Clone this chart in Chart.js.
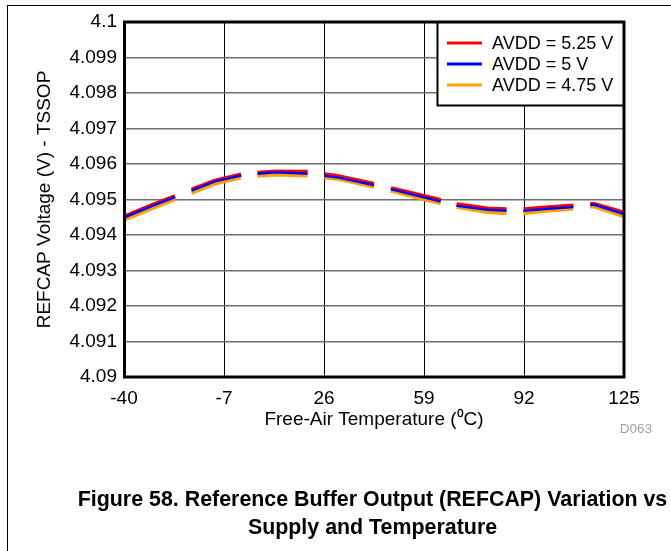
<!DOCTYPE html>
<html>
<head>
<meta charset="utf-8">
<script src="https://cdn.jsdelivr.net/npm/chart.js@4"></script>
<style>
html, body { margin: 0; padding: 0; background: #fff; }
canvas { display: block; }
</style>
</head>
<body>
<canvas id="myChart" width="671" height="551"></canvas>
<script>
// values
const temperatures = [-40, -30, -20, -10, 0, 10, 20, 30, 40, 50, 60, 70, 80, 90, 100, 110, 115, 125];
const avdd525 = [4.09452, 4.09487, 4.09520, 4.09553, 4.09573, 4.09579, 4.09578, 4.09567, 4.09549, 4.09528, 4.09508, 4.09487, 4.09475, 4.09471, 4.09478, 4.09484, 4.09488, 4.09463];
const avdd500 = [4.09449, 4.09484, 4.09517, 4.09551, 4.09570, 4.09577, 4.09573, 4.09563, 4.09545, 4.09525, 4.09504, 4.09482, 4.09471, 4.09467, 4.09474, 4.09480, 4.09486, 4.09459];
const avdd475 = [4.09442, 4.09477, 4.09510, 4.09544, 4.09564, 4.09570, 4.09567, 4.09558, 4.09540, 4.09520, 4.09498, 4.09478, 4.09464, 4.09459, 4.09468, 4.09474, 4.09480, 4.09452];
const seriesLabels = ['AVDD = 5.25 V', 'AVDD = 5 V', 'AVDD = 4.75 V'];
const xTickValues = [-40, -7, 26, 59, 92, 125];
const yTickValues = [4.09, 4.091, 4.092, 4.093, 4.094, 4.095, 4.096, 4.097, 4.098, 4.099, 4.1];
const captionLines = ['Figure 58. Reference Buffer Output (REFCAP) Variation vs', 'Supply and Temperature'];

const FONT = "'Liberation Sans', Arial, sans-serif";
// dash lengths along the path (slope makes the first dashes a bit longer)
const DASHES = [55, 17.7, 52, 16.5, 50.2, 17, 50.5, 17.4, 51.2, 16.4, 50.3, 17, 50, 17, 80, 10];

function toPoints(values) {
    return temperatures.map((t, i) => ({ x: t, y: values[i] }));
}

// legend box, plot frame, page frame and caption
const decorations = {
    id: 'decorations',
    afterDraw(chart) {
        const ctx = chart.ctx;
        const a = chart.chartArea;
        ctx.save();

        // legend
        const boxLeft = a.right - 186.5, boxTop = a.top, boxBottom = a.top + 83.5;
        ctx.fillStyle = '#fff';
        ctx.fillRect(boxLeft, boxTop, a.right - boxLeft, boxBottom - boxTop);
        ctx.strokeStyle = '#000';
        ctx.lineWidth = 2;
        ctx.strokeRect(boxLeft, boxTop, a.right - boxLeft, boxBottom - boxTop);
        chart.data.datasets.forEach((ds, i) => {
            const y = a.top + 21 + i * 21;
            ctx.strokeStyle = ds.borderColor;
            ctx.lineWidth = 3;
            ctx.setLineDash([]);
            ctx.beginPath();
            ctx.moveTo(boxLeft + 9.5, y);
            ctx.lineTo(boxLeft + 44.5, y);
            ctx.stroke();
            ctx.fillStyle = '#000';
            ctx.font = '18px ' + FONT;
            ctx.textAlign = 'left';
            ctx.textBaseline = 'middle';
            ctx.fillText(ds.label, boxLeft + 54.5, y + 1);
        });

        // thick plot border
        ctx.strokeStyle = '#000';
        ctx.lineWidth = 3;
        ctx.strokeRect(a.left + 0.5, a.top, a.right - a.left - 0.5, a.bottom - a.top);

        // page frame
        ctx.fillStyle = '#000';
        ctx.fillRect(7, 5, 1, 546);
        ctx.fillRect(7, 5, 664, 1);

        // figure id
        ctx.fillStyle = '#a0a0a0';
        ctx.font = '13.5px ' + FONT;
        ctx.textAlign = 'right';
        ctx.textBaseline = 'alphabetic';
        ctx.fillText('D063', 652, 433);

        // caption
        ctx.fillStyle = '#000';
        ctx.font = 'bold 21.4px ' + FONT;
        ctx.textAlign = 'center';
        captionLines.forEach((line, i) => {
            ctx.fillText(line, 372.5, 506 + i * 28);
        });
        ctx.restore();
    }
};

const ctx = document.getElementById('myChart').getContext('2d');

const data = {
    datasets: [
        {
            label: seriesLabels[0],
            data: toPoints(avdd525),
            borderColor: '#ff0000',
            borderWidth: 4,
            order: 2,
        },
        {
            label: seriesLabels[1],
            data: toPoints(avdd500),
            borderColor: '#0000ff',
            borderWidth: 2.5,
            order: 0,
        },
        {
            label: seriesLabels[2],
            data: toPoints(avdd475),
            borderColor: '#ffa200',
            borderWidth: 3.5,
            order: 1,
        },
    ],
};

const config = {
    type: 'line',
    data: data,
    options: {
        responsive: false,
        animation: false,
        devicePixelRatio: 1,
        layout: {
            padding: { left: 20, right: 47, top: 22, bottom: 114 },
        },
        elements: {
            point: { radius: 0 },
            line: { tension: 0, borderDash: DASHES, fill: false },
        },
        plugins: {
            legend: { display: false },
            tooltip: { enabled: false },
        },
        scales: {
            x: {
                type: 'linear',
                min: -40,
                max: 125,
                afterBuildTicks: (scale) => {
                    scale.ticks = xTickValues.map((v) => ({ value: v }));
                },
                afterFit: (scale) => { scale.height = 60; },
                grid: { color: '#000', lineWidth: 1, drawTicks: false },
                border: { display: false },
                ticks: {
                    padding: 10,
                    color: '#000',
                    font: { family: FONT, size: 19 },
                    maxRotation: 0,
                },
                title: {
                    display: true,
                    text: 'Free-Air Temperature (\u2070C)',
                    color: '#000',
                    font: { family: FONT, size: 19 },
                    padding: { top: 0, bottom: 5.6 },
                },
            },
            y: {
                type: 'linear',
                min: 4.09,
                max: 4.1,
                afterBuildTicks: (scale) => {
                    scale.ticks = yTickValues.map((v) => ({ value: v }));
                },
                afterFit: (scale) => { scale.width = 104; },
                grid: { color: '#6e6e6e', lineWidth: 1.5, drawTicks: false },
                border: { display: false },
                ticks: {
                    padding: 7,
                    color: '#000',
                    font: { family: FONT, size: 19 },
                    callback: function (value) {
                        return String(Number(value.toFixed(3)));
                    },
                },
                title: {
                    display: true,
                    text: 'REFCAP Voltage (V) - TSSOP',
                    color: '#000',
                    font: { family: FONT, size: 19 },
                    padding: { top: 13.6, bottom: 0 },
                },
            },
        },
    },
    plugins: [decorations],
};

let chartStatus = Chart.getChart('myChart');
if (chartStatus != undefined) {
    chartStatus.destroy();
}
const myChart = new Chart(ctx, config);
</script>
</body>
</html>
